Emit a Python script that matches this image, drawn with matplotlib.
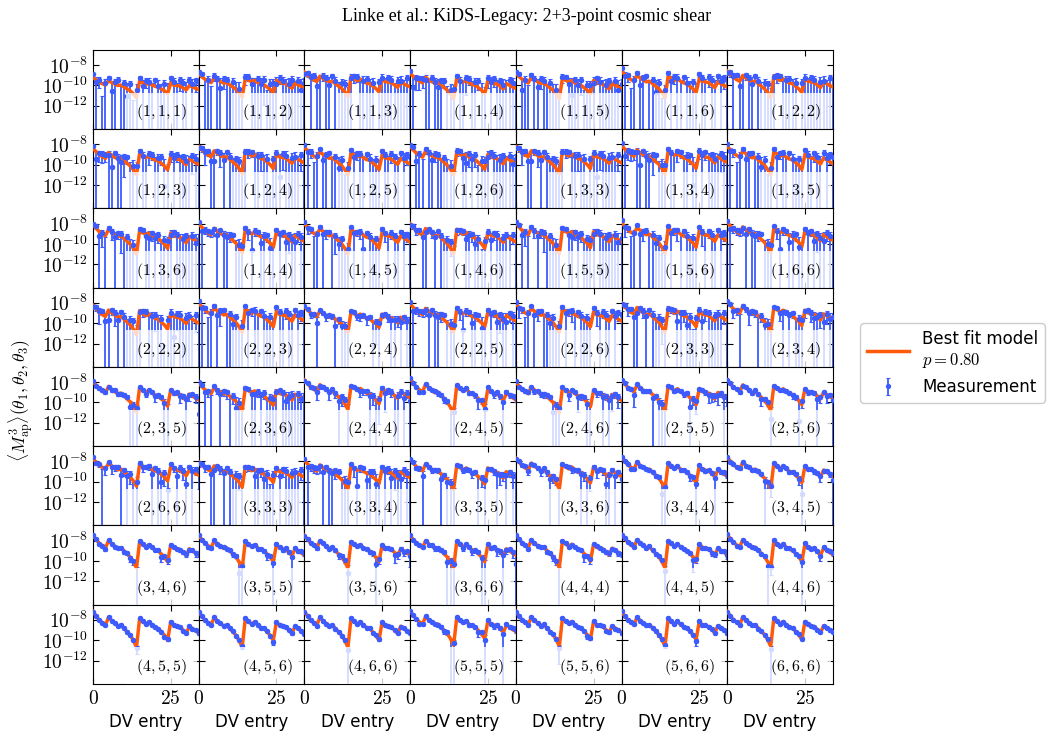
import numpy as np
import matplotlib
matplotlib.use("Agg")
import matplotlib.pyplot as plt
from matplotlib.ticker import FuncFormatter
from itertools import combinations_with_replacement

plt.rcParams['mathtext.fontset'] = 'cm'
plt.rcParams['font.family'] = ['DejaVu Sans']

#%% data
n_bins = 6
triplets = list(combinations_with_replacement(range(1, n_bins + 1), 3))
dv_entry = np.arange(35)

# shape of the model along the data vector (log10, relative to entry 0, first dip = -1)
model_shape = np.array([0.0, -0.123, -0.237, -0.314, -0.38, -0.16, -0.257, -0.331, -0.4,
                        -0.38, -0.474, -0.571, -0.666, -0.809, -1.0,
                        -0.189, -0.266, -0.351, -0.286, -0.38, -0.446, -0.474, -0.571, -0.666, -0.809,
                        -0.286, -0.38, -0.409, -0.429, -0.523, -0.617,
                        -0.409, -0.474, -0.543, -0.6])

# log10 of model at entry 0, panel by panel (row major)
model_level = np.array([
    -9.2, -8.85, -8.7, -8.8, -8.8, -8.6, -8.6,
    -8.4, -8.2, -8.3, -8.2, -8.2, -8.1, -8.2,
    -8.1, -8.0, -8.0, -8.0, -7.95, -7.9, -7.85,
    -8.25, -8.05, -8.4, -8.1, -8.1, -8.0, -7.9,
    -7.95, -8.1, -7.8, -7.65, -8.0, -7.8, -7.8,
    -7.75, -8.05, -7.9, -7.8, -7.7, -7.6, -7.6,
    -7.5, -7.5, -7.5, -7.5, -7.45, -7.4, -7.4,
    -7.2, -7.2, -7.2, -7.15, -7.2, -7.2, -7.2])

# depth (decades) of the first dip
model_depth = np.array([
    2.0, 2.3, 2.4, 2.5, 2.5, 2.6, 2.6,
    2.6, 2.7, 2.7, 2.8, 2.7, 2.8, 2.8,
    2.9, 2.9, 3.0, 3.0, 3.0, 3.0, 3.0,
    2.9, 2.85, 2.5, 2.8, 2.8, 2.9, 2.9,
    3.0, 2.7, 2.9, 3.5, 3.0, 3.0, 3.0,
    2.7, 2.5, 2.85, 3.0, 3.0, 3.1, 3.1,
    3.2, 3.2, 3.2, 3.2, 3.2, 3.3, 3.3,
    3.5, 3.5, 3.5, 3.35, 3.4, 3.4, 3.4])

# relative error along the data vector
err_shape = np.array([0.08, 0.1, 0.13, 0.17, 0.22, 0.1, 0.13, 0.17, 0.23,
                      0.2, 0.27, 0.36, 0.5, 0.7, 1.4,
                      0.1, 0.13, 0.18, 0.16, 0.2, 0.26, 0.3, 0.4, 0.55, 1.1,
                      0.16, 0.22, 0.26, 0.3, 0.4, 0.7,
                      0.26, 0.35, 0.5, 0.6])

noise_level = np.array([
    11, 11, 10, 10, 10, 10, 10,
    9, 9, 9, 9, 9, 9, 9,
    7, 6, 6, 6, 7, 7, 6,
    9, 8, 3, 6, 7, 7, 4,
    2, 5, 3, 1.5, 2.5, 2, 1.5,
    4, 6, 6, 2.5, 2.5, 1.2, 1.2,
    1.0, 1.2, 1.2, 1.8, 1.0, 0.8, 0.8,
    0.4, 0.35, 0.4, 1.3, 0.5, 0.4, 0.4])

# measured offsets from the model in units of sigma
scatter_a = [1.2, -0.3, 0.5, -1.5, 0.2, 0.8, -0.6, 0.3, 1.0, -0.9, 0.4, -0.2, 0.6, -1.1, 0.3, 0.9, -0.4, 0.7,
             0.2, -0.8, 1.1, 0.1, -0.5, 0.6, -0.2, 1.3, 0.4, -0.7, 0.8, 0.5, -0.3, 1.0, 0.2, 0.9, 0.6]
scatter_b = [0.4, 0.9, -0.7, 0.2, -1.2, 0.5, 0.1, -0.4, 0.7, 0.3, -1.0, 0.6, -0.3, 0.2, -0.9, 0.3, 0.8, -0.2,
             -0.6, 0.5, 0.0, 0.7, -1.1, 0.4, 0.6, -0.3, 0.9, 0.2, -0.5, 0.1, 0.7, -0.8, 0.4, -0.1, 0.3]
scatter_c = [-0.5, 0.6, 0.2, 0.9, -0.3, -1.0, 0.7, 0.4, -0.2, 1.1, 0.3, -0.6, 0.5, 0.8, -0.4, -0.2, 0.5, 0.9,
             -0.8, 0.1, 0.6, -0.4, 0.3, -1.2, 0.7, 0.2, -0.5, 0.6, 0.3, -0.9, 0.4, 0.1, -0.6, 0.8, -0.3]
scatter_d = [0.8, -0.9, 0.3, 0.5, 0.7, -0.4, -0.8, 0.9, 0.1, -0.3, 0.6, 1.0, -0.7, 0.2, 0.5, 0.6, -0.1, -0.9,
             0.4, 0.8, -0.5, 0.3, 0.9, -0.2, -0.7, 0.5, 0.1, 0.8, -0.4, 0.6, 0.2, -0.5, 0.7, 0.3, -0.8]
scatter_sets = [scatter_a, scatter_b, scatter_c, scatter_d]
scatter_id = [0, 1, 2, 3, 1, 0, 2,
              3, 2, 0, 1, 2, 3, 0,
              1, 3, 0, 2, 1, 0, 3,
              2, 0, 1, 3, 0, 2, 1,
              3, 1, 2, 0, 3, 1, 2,
              0, 2, 3, 1, 2, 0, 3,
              1, 0, 2, 3, 1, 2, 0,
              2, 3, 1, 0, 2, 3, 1]

p_value = 0.80

#%% plot
c_model = '#ff5a0a'
c_meas = '#3d5cff'

fig, axes = plt.subplots(8, 7, figsize=(10.53, 7.41), dpi=100, sharex=True, sharey=True)
fig.subplots_adjust(left=0.0883, right=0.791, top=0.9325, bottom=0.077, wspace=0, hspace=0)

logfmt = FuncFormatter(lambda v, p: r'$10^{%d}$' % int(round(np.log10(v))))
intfmt = FuncFormatter(lambda v, p: r'$%d$' % int(round(v)))

for i, ax in enumerate(axes.flat):
    model = 10**(model_level[i] + model_depth[i] * model_shape)
    sigma = noise_level[i] * err_shape * model
    meas = model + np.array(scatter_sets[scatter_id[i]]) * sigma

    eb = ax.errorbar(dv_entry, meas, yerr=sigma, fmt='o', ms=2.8, color=c_meas,
                     elinewidth=1.3, capsize=1.3, capthick=0.8, zorder=2)
    ln, = ax.plot(dv_entry, model, color=c_model, lw=2.5, zorder=3)
    ax.plot(dv_entry, meas, 'o', ms=2.8, color=c_meas, zorder=4)

    ax.set_yscale('log')
    ax.set_ylim(5e-15, 3e-7)
    ax.set_xlim(0, 34)
    ax.set_xticks([0, 25])
    ax.set_yticks([1e-12, 1e-10, 1e-8])
    ax.minorticks_off()
    ax.yaxis.set_major_formatter(logfmt)
    ax.xaxis.set_major_formatter(intfmt)
    ax.tick_params(direction='in', top=True, right=True, length=4, labelsize=14)

    lab = r'$(%d, %d, %d)$' % triplets[i]
    ax.text(0.89, 0.09, lab, transform=ax.transAxes, ha='right', va='bottom', fontsize=11.5,
            zorder=6, clip_on=True,
            bbox=dict(boxstyle='square,pad=0.6', fc='white', ec='none', alpha=0.78))

    if i == 0:
        h_model, h_meas = ln, eb

for ax in axes[-1]:
    ax.set_xlabel('DV entry', fontsize=12)

fig.text(0.02, 0.46, r'$\langle M_{\rm ap}^3\rangle(\theta_1,\theta_2,\theta_3)$',
         rotation=90, ha='center', va='center', fontsize=12.5)
fig.text(0.5, 0.978, 'Linke et al.: KiDS-Legacy: 2+3-point cosmic shear',
         ha='center', va='center', family='Liberation Serif', fontsize=13)

fig.legend(handles=[h_model, h_meas],
           labels=['Best fit model\n$p = %.2f$' % p_value, 'Measurement'],
           loc='center right', bbox_to_anchor=(1.0, 0.51), fontsize=12,
           handlelength=2.5, framealpha=1)

fig.savefig('out.png', dpi=100)
